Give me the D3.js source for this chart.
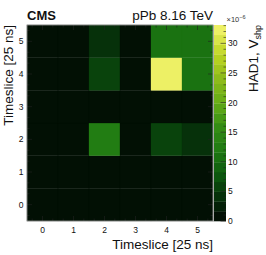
<!DOCTYPE html>
<html>
<head>
<meta charset="utf-8">
<script src="https://cdn.jsdelivr.net/npm/d3@7"></script>
<style>
  body { margin: 0; background: white; }
  svg text { font-family: "Liberation Sans", Arial, Helvetica, sans-serif; }
</style>
</head>
<body>
<div id="chart"></div>
<script>
// timeslice bins (x and y)
const xBins = [0, 1, 2, 3, 4, 5]
const yBins = [0, 1, 2, 3, 4, 5]
// HAD1 Vshp values x1e-6, one row per y bin (0..5), columns x bin 0..5
const row0 = [0.5, 0.5, 0.5, 0.5, 0.5, 0.5]
const row1 = [0.5, 0.5, 0.5, 0.5, 0.5, 0.5]
const row2 = [0.5, 0.5, 12.4, 0.5, 5.8, 4.2]
const row3 = [0.5, 0.5, 0.5, 0.5, 0.5, 0.5]
const row4 = [0.5, 0.5, 5.8, 0.5, 33.1, 10.8]
const row5 = [0.5, 0.5, 4.2, 0.5, 10.8, 10.8]
const rows = [row0, row1, row2, row3, row4, row5]
const zTicks = [0, 5, 10, 15, 20, 25, 30]
const zMax = 33.1
const nContours = 20

const w = 266
const h = 255
const padL = 27, padR = 213, padT = 25, padB = 221

const svg = d3.select("#chart").append("svg")
  .attr("width", w).attr("height", h)

const x = d3.scaleLinear().domain([-0.5, 5.5]).range([padL, padR])
const y = d3.scaleLinear().domain([-0.5, 5.5]).range([padB, padT])
const z = d3.scaleLinear().domain([0, zMax]).range([padB, padT])

// kAvocado palette
const stops = [0, 0.125, 0.25, 0.375, 0.5, 0.625, 0.75, 0.875, 1]
const reds = [0, 4, 12, 30, 52, 101, 142, 190, 237]
const greens = [0, 40, 86, 121, 140, 172, 187, 213, 240]
const blues = [0, 9, 14, 18, 21, 23, 27, 35, 101]
const pal = d3.scaleLinear().domain(stops)
  .range(stops.map((s, i) => d3.rgb(reds[i], greens[i], blues[i])))

function bandColor(i) {
  let f = Math.min(1, (i + 0.99) / nContours)
  return pal(f)
}
function valColor(v) {
  let i = Math.floor(v / zMax * nContours)
  i = Math.max(0, Math.min(nContours - 1, i))
  return bandColor(i)
}

// cells
const cells = []
rows.forEach((r, yi) => r.forEach((v, xi) => cells.push({x: xBins[xi], y: yBins[yi], v: v})))

svg.append("g").selectAll("rect")
  .data(cells).enter().append("rect")
  .attr("x", d => x(d.x - 0.5))
  .attr("y", d => y(d.y + 0.5))
  .attr("width", d => x(d.x + 0.5) - x(d.x - 0.5))
  .attr("height", d => y(d.y - 0.5) - y(d.y + 0.5))
  .attr("fill", d => valColor(d.v))
  .attr("stroke", d => valColor(d.v))
  .attr("stroke-width", 0.3)

// ticks on all sides
const tk = svg.append("g").attr("stroke", "#222").attr("stroke-width", 0.6)
const minor = d3.range(-1, 19).map(i => i / 3).filter(v => v > -0.5 && v < 5.5)
minor.forEach(v => {
  const isMajor = Math.abs(v - Math.round(v)) < 1e-6
  const len = isMajor ? 5 : 2.5
  tk.append("line").attr("x1", x(v)).attr("x2", x(v)).attr("y1", padB).attr("y2", padB - len)
  tk.append("line").attr("x1", x(v)).attr("x2", x(v)).attr("y1", padT).attr("y2", padT + len)
  tk.append("line").attr("y1", y(v)).attr("y2", y(v)).attr("x1", padL).attr("x2", padL + len)
  tk.append("line").attr("y1", y(v)).attr("y2", y(v)).attr("x1", padR).attr("x2", padR - len)
})

// frame
svg.append("rect")
  .attr("x", padL).attr("y", padT)
  .attr("width", padR - padL).attr("height", padB - padT)
  .attr("fill", "none").attr("stroke", "#999").attr("stroke-width", 0.8)

// tick labels
svg.append("g").selectAll("text")
  .data(xBins).enter().append("text")
  .attr("x", d => x(d)).attr("y", 233)
  .attr("text-anchor", "middle").attr("font-size", "8.5px").attr("fill", "#111")
  .text(d => d)

svg.append("g").selectAll("text")
  .data(yBins).enter().append("text")
  .attr("x", 23.5).attr("y", d => y(d) + 3)
  .attr("text-anchor", "end").attr("font-size", "8.5px").attr("fill", "#111")
  .text(d => d)

// axis titles
svg.append("text")
  .attr("x", padR).attr("y", 249)
  .attr("text-anchor", "end").attr("font-size", "13.5px").attr("fill", "#111")
  .text("Timeslice [25 ns]")

svg.append("text")
  .attr("transform", "translate(12.5," + padT + ") rotate(-90)")
  .attr("text-anchor", "end").attr("font-size", "13.5px").attr("fill", "#111")
  .text("Timeslice [25 ns]")

// colour bar
const cbL = 213.5, cbR = 226
const bands = d3.range(nContours)
svg.append("g").selectAll("rect")
  .data(bands).enter().append("rect")
  .attr("x", cbL)
  .attr("y", d => z((d + 1) * zMax / nContours))
  .attr("width", cbR - cbL)
  .attr("height", d => z(d * zMax / nContours) - z((d + 1) * zMax / nContours) + 0.3)
  .attr("fill", d => bandColor(d))

svg.append("line")
  .attr("x1", cbL).attr("x2", cbL).attr("y1", padT).attr("y2", padB)
  .attr("stroke", "#aaa").attr("stroke-width", 1)

const zt = svg.append("g").attr("stroke", "#222").attr("stroke-width", 0.6)
d3.range(0, 34).forEach(v => {
  const len = v % 5 === 0 ? 5.5 : 2.5
  zt.append("line").attr("x1", cbR).attr("x2", cbR - len).attr("y1", z(v)).attr("y2", z(v))
})

svg.append("g").selectAll("text")
  .data(zTicks).enter().append("text")
  .attr("x", 228).attr("y", d => z(d) + 3)
  .attr("font-size", "8.5px").attr("fill", "#111")
  .text(d => d)

const mult = svg.append("text").attr("x", 226.5).attr("y", 22)
  .attr("font-size", "7.5px").attr("fill", "#333")
mult.append("tspan").text("\u00d710")
mult.append("tspan").attr("dy", -3.5).attr("font-size", "5.5px").text("\u22126")

const zt2 = svg.append("text")
  .attr("transform", "translate(258,25) rotate(-90)")
  .attr("text-anchor", "end").attr("font-size", "13.5px").attr("fill", "#111")
zt2.append("tspan").text("HAD1, V")
zt2.append("tspan").attr("dy", 3).attr("font-size", "9px").text("shp")

// labels
svg.append("text")
  .attr("x", padL).attr("y", 19.5)
  .attr("font-size", "13px").attr("font-weight", "bold").attr("fill", "#111")
  .text("CMS")

svg.append("text")
  .attr("x", padR).attr("y", 19.5)
  .attr("text-anchor", "end").attr("font-size", "13.5px").attr("fill", "#111")
  .text("pPb 8.16 TeV")
</script>
</body>
</html>
